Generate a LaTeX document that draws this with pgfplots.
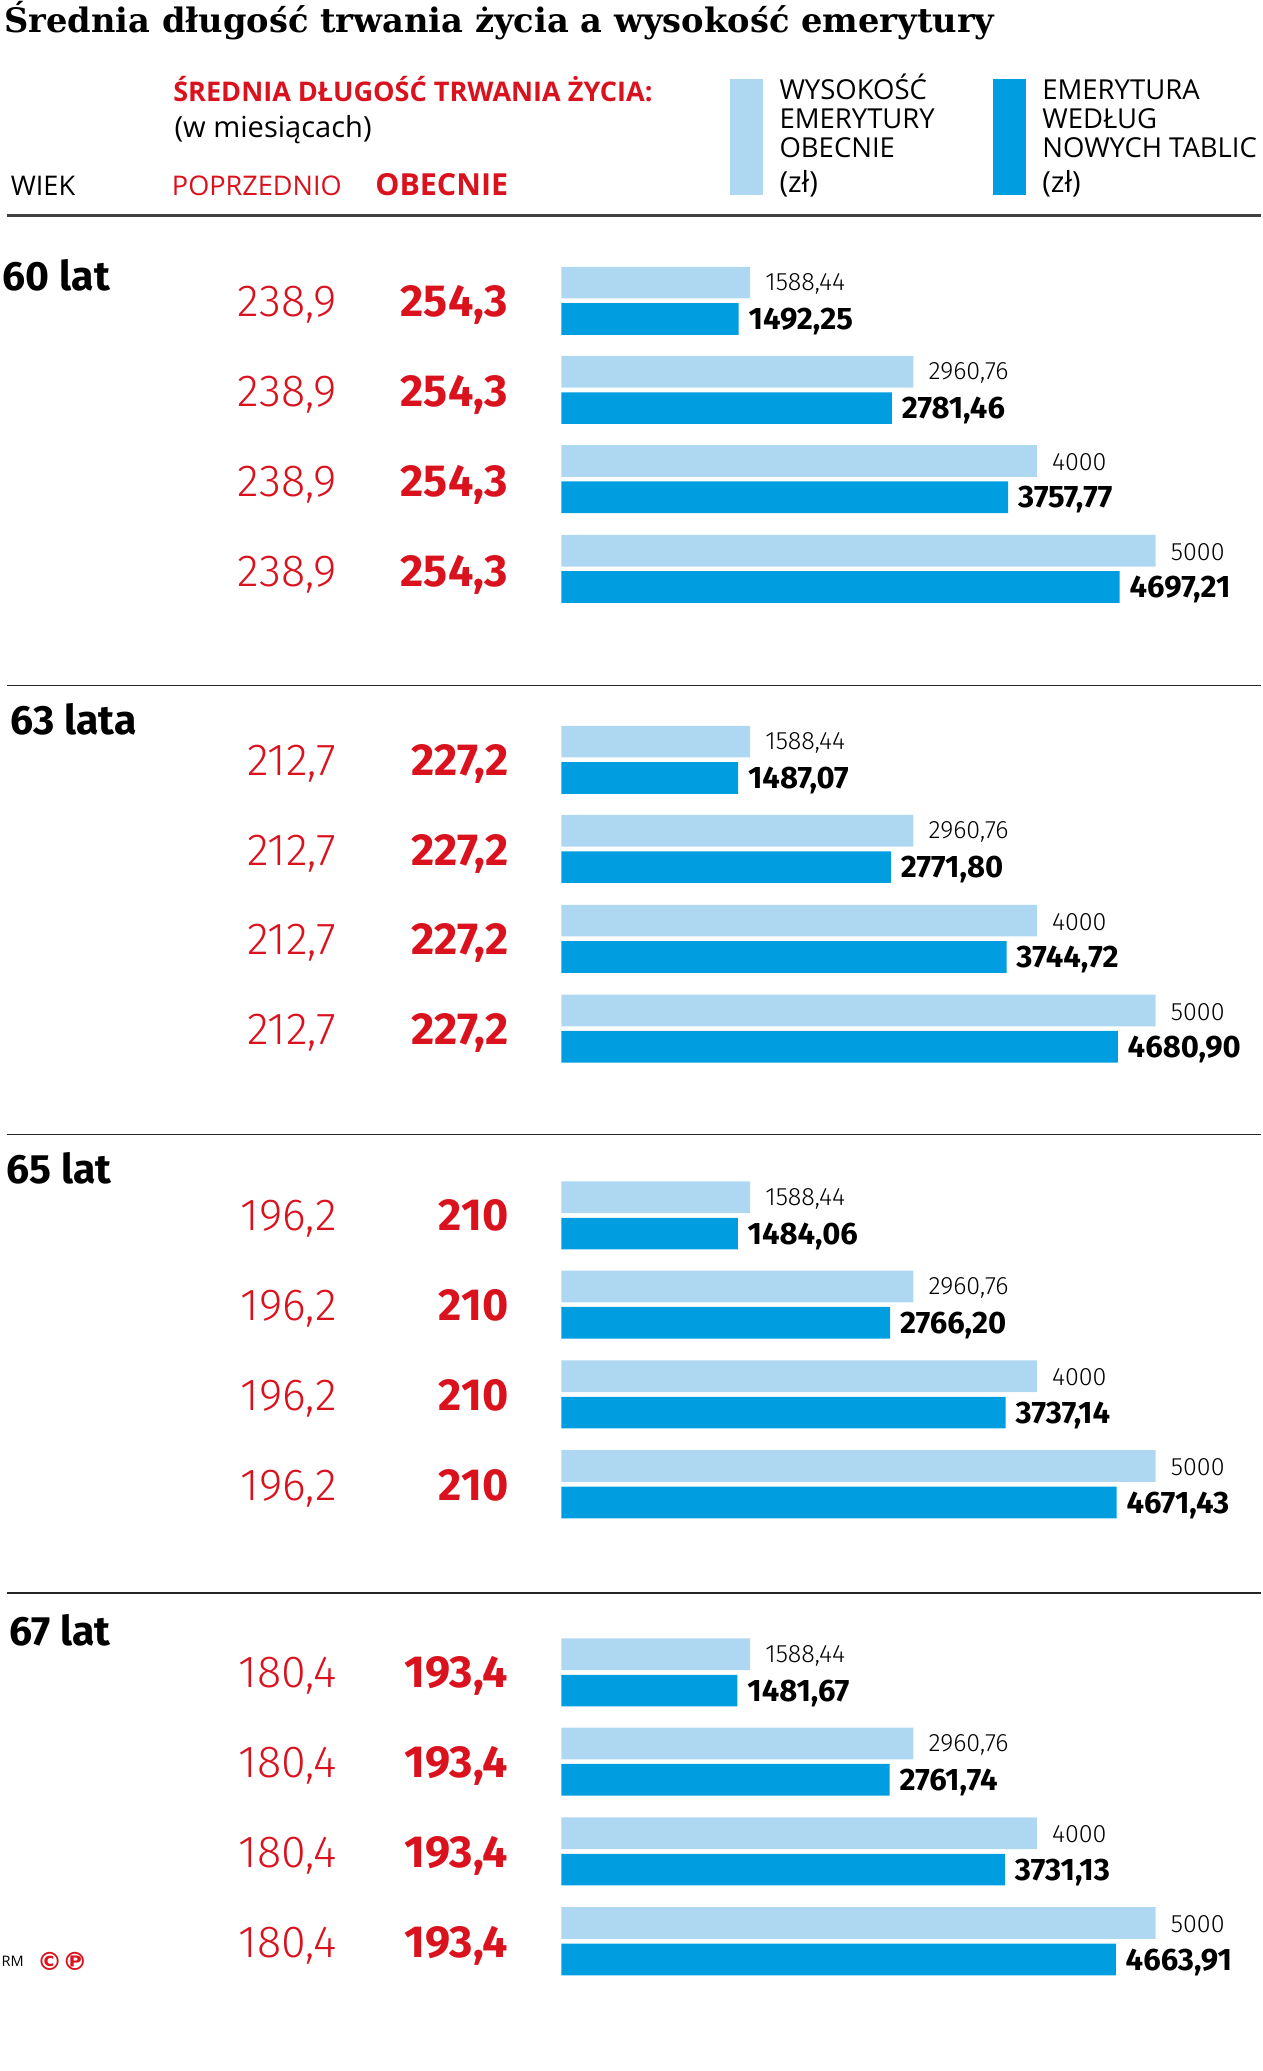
\documentclass[border=0pt]{standalone}
\usepackage{pgfplots}
\pgfplotsset{compat=1.18}
\usepackage{fontspec}
\setmainfont{Fira Sans}
\newfontfamily\titlef{DejaVu Serif}
\newfontfamily\lightf{Fira Sans Light}
\newfontfamily\hdf{Open Sans}
\newfontfamily\symf{DejaVu Sans}
\definecolor{lblue}{RGB}{174,216,242}
\definecolor{dblue}{RGB}{0,158,224}
\definecolor{dred}{RGB}{218,18,30}
\newcommand\fs[1]{\fontsize{#1}{#1}\selectfont}

\pgfplotstableread{
x y l
1588.44 214 1588,44
2960.76 281.5 2960,76
4000 349 4000
5000 417 5000
1588.44 561.5 1588,44
2960.76 629 2960,76
4000 697 4000
5000 765 5000
1588.44 906.5 1588,44
2960.76 974 2960,76
4000 1042 4000
5000 1110 5000
1588.44 1252.5 1588,44
2960.76 1320 2960,76
4000 1388 4000
5000 1456 5000
}\obecnie

\pgfplotstableread{
x y l
1492.25 241.5 1492,25
2781.46 309 2781,46
3757.77 376.5 3757,77
4697.21 444.5 4697,21
1487.07 589 1487,07
2771.80 656.5 2771,80
3744.72 724.5 3744,72
4680.90 792.5 4680,90
1484.06 934 1484,06
2766.20 1001.5 2766,20
3737.14 1069.5 3737,14
4671.43 1137.5 4671,43
1481.67 1280 1481,67
2761.74 1347.5 2761,74
3731.13 1415.5 3731,13
4663.91 1483.5 4663,91
}\nowe

\begin{document}
\begin{tikzpicture}
\useasboundingbox (0,0) rectangle (956pt,1568pt);
\begin{axis}[
  at={(0pt,0pt)}, anchor=south west,
  scale only axis, width=956pt, height=1568pt,
  xmin=-4722.2, xmax=5900, ymin=0, ymax=1568, y dir=reverse,
  axis lines=none, clip=false,
  point meta=explicit symbolic,
]
\addplot[xbar, bar shift=0pt, bar width=24, fill=lblue, draw=none, nodes near coords,
  every node near coord/.append style={anchor=west, xshift=8pt, yshift=-1pt, text=black, font=\lightf\fs{19}}]
  table[x=x, y=y, meta=l] {\obecnie};
\addplot[xbar, bar shift=0pt, bar width=24, fill=dblue, draw=none, nodes near coords,
  every node near coord/.append style={anchor=west, xshift=4pt, yshift=-2pt, text=black, font=\bfseries\fs{23.5}}]
  table[x=x, y=y, meta=l] {\nowe};
% legend swatches
\addplot[sharp plot, fill=lblue, draw=none, mark=none] coordinates {(1422.2,60) (1700,60) (1700,148) (1422.2,148)} -- cycle;
\addplot[sharp plot, fill=dblue, draw=none, mark=none] coordinates {(3633.3,60) (3911.1,60) (3911.1,148) (3633.3,148)} -- cycle;
\end{axis}

\begin{scope}[yshift=1568pt, x=1pt, y=-1pt]
\node[anchor=base west, inner sep=0] at (3,25) {\titlef\bfseries\fs{25.5}Średnia długość trwania życia a wysokość emerytury};
\node[anchor=base west, inner sep=0, text=dred] at (131,77) {\hdf\bfseries\fs{20.5}ŚREDNIA DŁUGOŚĆ TRWANIA ŻYCIA:};
\node[anchor=base west, inner sep=0] at (132,104) {\hdf\fs{22}(w miesiącach)};
\node[anchor=base west, inner sep=0] at (8,148) {\hdf\fs{20.5}WIEK};
\node[anchor=base west, inner sep=0, text=dred] at (130,148) {\hdf\fs{20.5}POPRZEDNIO};
\node[anchor=base west, inner sep=0, text=dred] at (284,148) {\hdf\bfseries\fs{23}OBECNIE};
\foreach \t [count=\i] in {WYSOKOŚĆ,EMERYTURY,OBECNIE}
  \node[anchor=base west, inner sep=0] at (590,53+22*\i) {\hdf\fs{20.8}\t};
\node[anchor=base west, inner sep=0] at (590,146) {\hdf\fs{22}(zł)};
\foreach \t [count=\i] in {EMERYTURA,WEDŁUG,NOWYCH TABLIC}
  \node[anchor=base west, inner sep=0] at (789,53+22*\i) {\hdf\fs{20.8}\t};
\node[anchor=base west, inner sep=0] at (789,146) {\hdf\fs{22}(zł)};
\draw[line width=2pt, black!75] (5,163) -- (955,163);
\foreach \yy in {519,859,1206}
  \draw[line width=1.4pt, black!85] (5,\yy) -- (955,\yy);
% group labels
\node[anchor=base west, inner sep=0] at (2,220) {\bfseries\fs{31}60 lat};
\node[anchor=base west, inner sep=0] at (8,556) {\bfseries\fs{31}63 lata};
\node[anchor=base west, inner sep=0] at (5,896) {\bfseries\fs{31}65 lat};
\node[anchor=base west, inner sep=0] at (7,1246) {\bfseries\fs{31}67 lat};
% left numbers
\foreach \base/\p/\o in {228/238{,}9/254{,}3, 575/212{,}7/227{,}2, 920/196{,}2/210, 1266/180{,}4/193{,}4}{
  \foreach \k in {0,1,2,3}{
    \node[anchor=base east, inner sep=0, text=dred] at (255,\base+12+68*\k) {\lightf\fs{34}\p};
    \node[anchor=base east, inner sep=0, text=dred] at (385,\base+12+68*\k) {\bfseries\fs{34}\o};
  }
}
\node[anchor=base west, inner sep=0] at (1,1489) {\hdf\fs{11}RM};
\node[anchor=base west, inner sep=0, text=dred] at (28,1492) {\symf\bfseries\fs{19}©℗};
\end{scope}
\end{tikzpicture}
\end{document}
